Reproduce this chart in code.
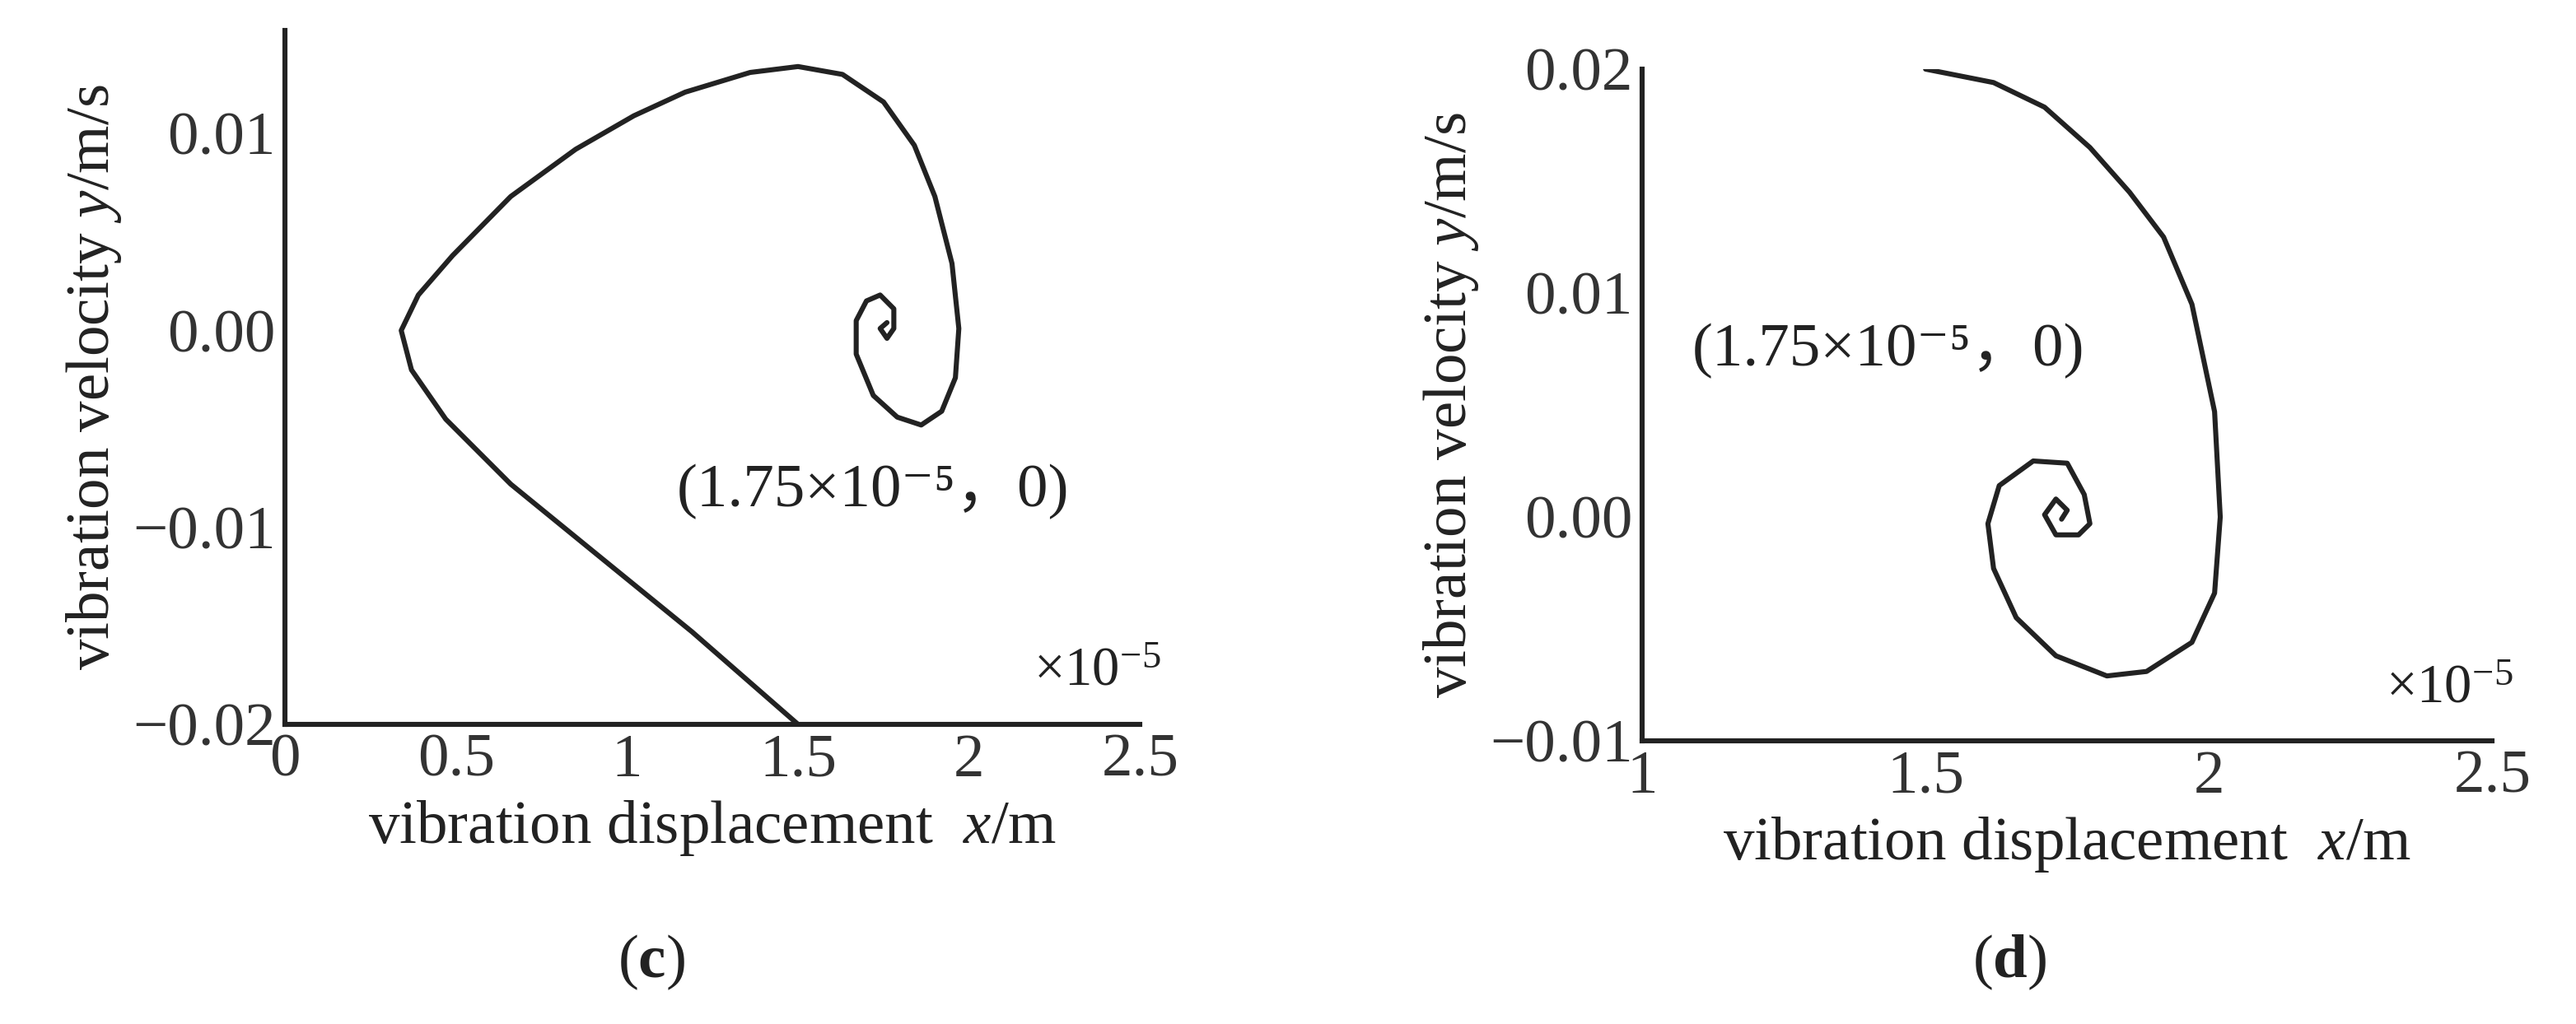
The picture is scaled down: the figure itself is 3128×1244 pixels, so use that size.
import numpy as np, pandas as pd, matplotlib
matplotlib.use("Agg")
import matplotlib.pyplot as plt, seaborn as sns

sns.set_style("white")
plt.rcParams['font.family'] = ['Liberation Serif', 'Noto Sans CJK SC', 'DejaVu Serif']
plt.rcParams['mathtext.fontset'] = 'custom'
plt.rcParams['mathtext.rm'] = 'Liberation Serif'
plt.rcParams['mathtext.it'] = 'Liberation Serif:italic'
plt.rcParams['mathtext.bf'] = 'Liberation Serif:bold'

# left panel (c): displacement (x1e-5 m), velocity (m/s)
c_x = [1.50,1.19,0.90,0.66,0.47,0.37,0.34,0.39,0.49,0.66,0.85,1.02,1.17,1.36,1.50,1.63,1.75,1.84,1.90,1.95,1.97,1.96,1.92,1.86,1.79,1.72,1.67,1.67,1.70,1.74,1.78,1.78,1.76,1.74,1.76]
c_y = [-0.0200,-0.0153,-0.0112,-0.0078,-0.0045,-0.0020,0.0000,0.0018,0.0038,0.0068,0.0092,0.0109,0.0121,0.0131,0.0134,0.0130,0.0116,0.0094,0.0068,0.0034,0.0001,-0.0024,-0.0041,-0.0048,-0.0044,-0.0033,-0.0012,0.0005,0.0015,0.0018,0.0011,0.0001,-0.0004,0.0001,0.0004]
# right panel (d)
d_x = [1.50,1.62,1.71,1.79,1.86,1.92,1.97,2.01,2.02,2.01,1.97,1.89,1.82,1.73,1.66,1.62,1.61,1.63,1.69,1.75,1.78,1.79,1.77,1.73,1.71,1.73,1.75,1.74]
d_y = [0.0200,0.0194,0.0183,0.0165,0.0145,0.0125,0.0095,0.0047,0.0000,-0.0034,-0.0056,-0.0069,-0.0071,-0.0062,-0.0045,-0.0023,-0.0003,0.0014,0.0025,0.0024,0.0010,-0.0003,-0.0008,-0.0008,0.0001,0.0008,0.0003,-0.0001]

fig = plt.figure(figsize=(15.64, 6.22), dpi=200)
ax1 = fig.add_axes([0.1106, 0.2926, 0.332, 0.678])
ax2 = fig.add_axes([0.6375, 0.2765, 0.33, 0.656])
fs = 27
for ax, xs, ys, xlim, ylim, xt, xtl, yt, cap, cx in [
    (ax1, c_x, c_y, (0, 2.5), (-0.02, 0.01525), [0,0.5,1,1.5,2,2.5], ['0','0.5','1','1.5','2','2.5'], [-0.02,-0.01,0,0.01], 'c', 0.253),
    (ax2, d_x, d_y, (1, 2.5), (-0.01, 0.02), [1,1.5,2,2.5], ['1','1.5','2','2.5'], [-0.01,0,0.01,0.02], 'd', 0.78)]:
    df = pd.DataFrame({'x': xs, 'y': ys})
    sns.lineplot(data=df, x='x', y='y', sort=False, estimator=None, ax=ax, color='#222222', lw=2.2)
    ax.set_xlim(*xlim); ax.set_ylim(*ylim)
    ax.set_xticks(xt); ax.set_xticklabels(xtl)
    ax.set_yticks(yt); ax.set_yticklabels(['\u22120.02' if v==-0.02 else '\u22120.01' if v==-0.01 else f'{v:.2f}' for v in yt])
    for s in ['top','right']: ax.spines[s].set_visible(False)
    for s in ['left','bottom']:
        ax.spines[s].set_linewidth(2.2); ax.spines[s].set_color('#222222')
    ax.tick_params(labelsize=fs, length=0, pad=4, colors='#333333')
    ax.set_xlabel('vibration displacement  $\\mathit{x}$/m', fontsize=fs, color='#222222', labelpad=4)
    ax.set_ylabel('vibration velocity $\\mathit{y}$/m/s', fontsize=fs, color='#222222', labelpad=4)
    ax.text(0.95, 0.04, '×10$^{-5}$', transform=ax.transAxes, fontsize=24, ha='center', va='bottom', color='#222222')
    fig.text(cx, 0.06, '($\\mathbf{' + cap + '}$)', fontsize=fs, ha='center', va='center', color='#222222')

ax1.text(1.72, -0.0082, '(1.75×10⁻⁵\uff0c0)', fontsize=fs, ha='center', va='center', color='#222222')
ax2.text(1.435, 0.0074, '(1.75×10⁻⁵\uff0c0)', fontsize=fs, ha='center', va='center', color='#222222')
fig.savefig('out.png', dpi=200)
